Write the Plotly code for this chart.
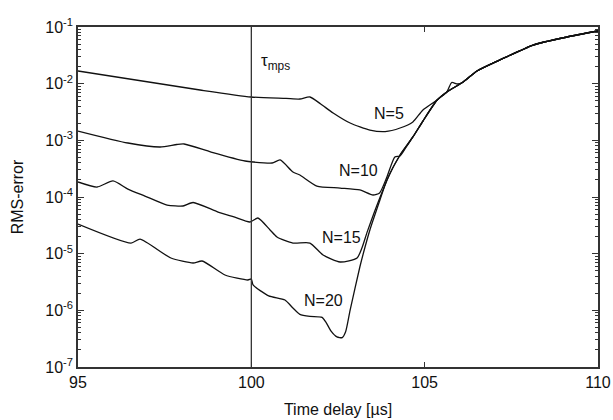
import plotly.graph_objects as go

# Common rising part shared by all curves (time delay in µs, RMS error)
tail_x = [104.29, 104.66, 104.95, 105.36, 105.64, 106.11, 106.51, 107.17, 108.13, 109.11, 110.0]
tail_y = [5.51e-4, 1.146e-3, 2.19e-3, 5.15e-3, 7.13e-3, 1.07e-2, 1.673e-2, 2.62e-2, 4.81e-2, 6.66e-2, 8.5e-2]

x5 = [95.0, 98.52, 99.99, 101.0, 101.40, 101.69, 102.0, 102.36, 102.85, 103.42, 103.86, 104.29, 104.66, 104.95]
y5 = [1.673e-2, 7.73e-3, 5.82e-3, 5.5e-3, 5.36e-3, 5.82e-3, 4.38e-3, 3.04e-3, 2.02e-3, 1.52e-3, 1.43e-3, 1.65e-3, 2.11e-3, 3.43e-3]

x10 = [95.0, 96.44, 97.37, 97.85, 98.06, 98.84, 99.82, 100.05, 100.6, 100.83, 101.20, 101.40, 101.89,
       102.56, 103.13, 103.51, 103.70, 103.91, 104.14, 104.29, 104.45]
y10 = [1.46e-3, 8.97e-4, 7.63e-4, 8.45e-4, 8.62e-4, 6.22e-4, 4.32e-4, 4.15e-4, 3.98e-4, 4.5e-4, 2.76e-4, 2.44e-4, 1.56e-4,
       1.44e-4, 1.33e-4, 1.085e-4, 1.18e-4, 2.25e-4, 5.1e-4, 5.3e-4, 7.33e-4]

x15 = [95.0, 95.55, 96.01, 96.44, 96.93, 97.57, 98.03, 98.32, 99.04, 99.5, 99.96, 100.19, 100.54, 100.74,
       101.20, 101.69, 102.07, 102.56, 103.05, 103.19, 103.34, 103.55, 103.78, 104.0]
y15 = [1.84e-4, 1.5e-4, 1.92e-4, 1.38e-4, 1.04e-4, 7.22e-5, 6.94e-5, 8.0e-5, 5.43e-5, 4.44e-5, 3.62e-5, 4.26e-5, 2.62e-5, 1.97e-5,
       1.54e-5, 1.54e-5, 9.47e-6, 7.13e-6, 8.38e-6, 1.26e-5, 2.4e-5, 5.43e-5, 1.25e-4, 2.6e-4]

x20 = [95.0, 96.53, 96.79, 97.68, 98.32, 98.58, 99.24, 99.90, 100.0, 100.05, 100.5, 100.97, 101.20, 101.40,
       101.69, 102.04, 102.15, 102.30, 102.47, 102.62, 102.72, 102.85, 103.13, 103.28, 103.42, 103.71, 103.91, 104.29,
       104.66, 104.95, 105.36, 105.64, 105.78, 105.95, 106.11]
y20 = [3.34e-5, 1.54e-5, 1.81e-5, 8.38e-6, 6.84e-6, 7.42e-6, 4.2e-6, 3.43e-6, 3.57e-6, 2.8e-6, 1.8e-6, 1.52e-6, 1.1e-6, 8.5e-7,
       7.8e-7, 7.5e-7, 6.2e-7, 4.3e-7, 3.4e-7, 3.3e-7, 4.2e-7, 1.01e-6, 5.82e-6, 1.31e-5, 2.62e-5, 8.85e-5, 2.0e-4, 5.51e-4,
       1.146e-3, 2.19e-3, 5.15e-3, 7.13e-3, 1.05e-2, 9.86e-3, 1.07e-2]

labels = ["N=5", "N=10", "N=15", "N=20"]
label_x = [103.97, 103.08, 102.59, 102.07]
label_logy = [-2.535, -3.541, -4.706, -5.818]

x_ticks = [95, 100, 105, 110]
y_exps = [-7, -6, -5, -4, -3, -2, -1]
tau_x = 100.0


def with_tail(xs, ys):
    last = xs[-1]
    ox = list(xs) + [t for t in tail_x if t > last]
    oy = list(ys) + [v for t, v in zip(tail_x, tail_y) if t > last]
    return ox, oy


fig = go.Figure()
line = dict(color="#111111", width=1.3, shape="spline", smoothing=0.6)
for xs, ys in [(x5, y5), (x10, y10), (x15, y15), (x20, y20)]:
    ox, oy = with_tail(xs, ys)
    fig.add_trace(go.Scatter(x=ox, y=oy, mode="lines", line=line, showlegend=False, hoverinfo="skip"))

family = "Liberation Sans, Arial, sans-serif"
font = dict(family=family, size=16, color="#111111")

for t, lx, ly in zip(labels, label_x, label_logy):
    fig.add_annotation(x=lx, y=ly, text=t, showarrow=False, font=font, xanchor="center", yanchor="middle")

fig.add_annotation(x=tau_x + 0.22, y=-1.62, text="τ<sub>mps</sub>", showarrow=False,
                   font=dict(family=family, size=17, color="#111111"), xanchor="left", yanchor="middle")

fig.add_shape(type="line", x0=tau_x, x1=tau_x, y0=0, y1=1, xref="x", yref="paper",
              line=dict(color="#333333", width=1.3))

minor_vals = [m * 10.0 ** e for e in y_exps[:-1] for m in range(2, 10)]

fig.update_layout(
    width=613, height=420,
    margin=dict(l=78, r=15, t=27, b=53),
    paper_bgcolor="white", plot_bgcolor="white",
    font=font,
    xaxis=dict(
        range=[95, 110], tickmode="array", tickvals=x_ticks, ticktext=[str(v) for v in x_ticks],
        ticks="inside", ticklen=5, tickcolor="#333333", showline=True, linecolor="#333333", linewidth=1.5,
        mirror="allticks", showgrid=False, zeroline=False, tickfont=font, automargin=False,
        title=dict(text="Time delay [µs]", font=font, standoff=14),
    ),
    yaxis=dict(
        type="log", range=[-7, -1], tickmode="array",
        tickvals=[10.0 ** e for e in y_exps],
        ticktext=["10<sup>%d</sup>" % e for e in y_exps],
        ticks="inside", ticklen=6, tickcolor="#333333", showline=True, linecolor="#333333", linewidth=1.5,
        mirror="allticks", showgrid=False, zeroline=False, tickfont=font, automargin=False,
        minor=dict(tickmode="array", tickvals=minor_vals, ticks="inside", ticklen=3, tickcolor="#333333", showgrid=False),
        title=dict(text="RMS-error", font=font, standoff=18),
    ),
)

fig.write_html("out.html")
